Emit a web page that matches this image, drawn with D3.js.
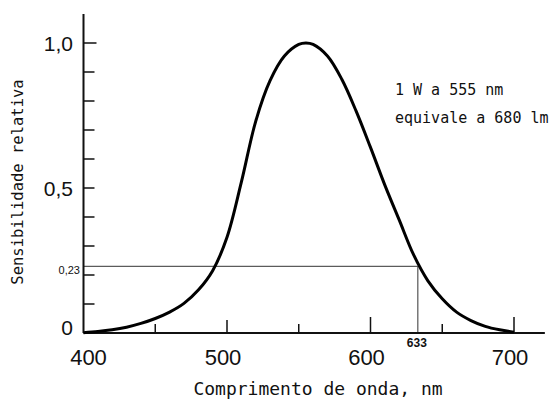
<!DOCTYPE html>
<html>
<head>
<meta charset="utf-8">
<script src="https://cdn.jsdelivr.net/npm/d3@7"></script>
<style>
  html, body { margin: 0; padding: 0; background: #fff; }
  svg { display: block; }
</style>
</head>
<body>
<svg id="chart" width="553" height="400"></svg>
<script>
// ---- data ----
const wavelengths = [400,410,420,430,440,450,460,470,480,490,500,510,520,530,540,550,555,560,570,580,590,600,610,620,630,640,650,660,670,680,690,700];
const sensitivity = [0.001,0.005,0.011,0.02,0.033,0.05,0.072,0.102,0.148,0.215,0.33,0.52,0.73,0.87,0.955,0.995,1.0,0.995,0.955,0.875,0.765,0.64,0.51,0.39,0.27,0.18,0.118,0.072,0.043,0.023,0.011,0.003];
const xMajorTicks = [500, 600, 700];
const xMinorTicks = [450, 550, 650];
const xTickLabels = ["400", "500", "600", "700"];
const yTicks = [0.1,0.2,0.3,0.4,0.5,0.6,0.7,0.8,0.9,1.0];
const yTickLabels = [{v:1.0, t:"1,0"}, {v:0.5, t:"0,5"}, {v:0, t:"0"}];
const refLevel = 0.23, refLevelLabel = "0,23";
const refWavelength = 633, refWavelengthLabel = "633";
const annotation = ["1 W a 555 nm", "equivale a 680 lm"];
const xTitle = "Comprimento de onda, nm";
const yTitle = "Sensibilidade relativa";

// ---- layout ----
const svg = d3.select("#chart");
const x = d3.scaleLinear().domain([400, 700]).range([83.5, 514]);
const y = d3.scaleLinear().domain([0, 1]).range([333, 43]);
const ink = "#111";
const numFont = "'Liberation Sans', Arial, sans-serif";
const monoFont = "'DejaVu Sans Mono', 'Liberation Mono', monospace";

// reference lines
svg.append("line")
  .attr("x1", x(400)).attr("x2", x(refWavelength))
  .attr("y1", y(refLevel)).attr("y2", y(refLevel))
  .attr("stroke", "#333").attr("stroke-width", 1);
svg.append("line")
  .attr("x1", x(refWavelength)).attr("x2", x(refWavelength))
  .attr("y1", y(refLevel)).attr("y2", y(0))
  .attr("stroke", "#333").attr("stroke-width", 1);

// axes lines
svg.append("line")
  .attr("x1", x(400)).attr("x2", x(721.5))
  .attr("y1", y(0)).attr("y2", y(0))
  .attr("stroke", ink).attr("stroke-width", 2);
svg.append("line")
  .attr("x1", x(400)).attr("x2", x(400))
  .attr("y1", y(1.1)).attr("y2", y(0))
  .attr("stroke", ink).attr("stroke-width", 2);

// y ticks (inward, right)
svg.append("g").selectAll("line").data(yTicks).join("line")
  .attr("x1", x(400)).attr("x2", d => x(400) + (d === 1.0 ? 13 : 11))
  .attr("y1", d => y(d)).attr("y2", d => y(d))
  .attr("stroke", ink).attr("stroke-width", 1.5);

// x ticks (upward)
svg.append("g").selectAll("line").data(xMajorTicks).join("line")
  .attr("x1", d => x(d)).attr("x2", d => x(d))
  .attr("y1", y(0)).attr("y2", d => y(0) - (d === 500 ? 13 : 16))
  .attr("stroke", ink).attr("stroke-width", 1.5);
svg.append("g").selectAll("line").data(xMinorTicks).join("line")
  .attr("x1", d => x(d)).attr("x2", d => x(d))
  .attr("y1", y(0)).attr("y2", y(0) - 9)
  .attr("stroke", ink).attr("stroke-width", 1.5);

// curve
const line = d3.line()
  .x((d, i) => x(wavelengths[i]))
  .y(d => y(d))
  .curve(d3.curveCatmullRom.alpha(0.5));
svg.append("path")
  .datum(sensitivity)
  .attr("d", line)
  .attr("fill", "none")
  .attr("stroke", "#000")
  .attr("stroke-width", 3)
  .attr("stroke-linejoin", "round");

// y tick labels
svg.append("g").selectAll("text").data(yTickLabels).join("text")
  .attr("x", 73)
  .attr("y", d => y(d.v) + (d.v === 0 ? 2 : 8))
  .attr("text-anchor", "end")
  .attr("font-family", numFont)
  .attr("font-size", 21)
  .attr("fill", ink)
  .text(d => d.t);

svg.append("text")
  .attr("x", 80).attr("y", y(refLevel) + 8)
  .attr("text-anchor", "end")
  .attr("font-family", numFont)
  .attr("font-size", 11)
  .attr("fill", ink)
  .text(refLevelLabel);

// x tick labels
svg.append("g").selectAll("text").data(xTickLabels).join("text")
  .attr("x", d => x(+d) + (+d === 400 ? 5 : -4))
  .attr("y", 365)
  .attr("text-anchor", "middle")
  .attr("font-family", numFont)
  .attr("font-size", 22)
  .attr("fill", ink)
  .text(d => d);

svg.append("text")
  .attr("x", x(refWavelength) - 1).attr("y", 347)
  .attr("text-anchor", "middle")
  .attr("font-family", numFont)
  .attr("font-size", 12)
  .attr("font-weight", "bold")
  .attr("fill", ink)
  .text(refWavelengthLabel);

// annotation
svg.append("g").selectAll("text").data(annotation).join("text")
  .attr("x", 395)
  .attr("y", (d, i) => 95 + i * 28)
  .attr("font-family", monoFont)
  .attr("font-size", 15)
  .attr("fill", ink)
  .text(d => d);

// axis titles
svg.append("text")
  .attr("x", 318).attr("y", 395)
  .attr("text-anchor", "middle")
  .attr("font-family", monoFont)
  .attr("font-size", 18)
  .attr("fill", ink)
  .text(xTitle);

svg.append("text")
  .attr("transform", "translate(23,182) rotate(-90)")
  .attr("text-anchor", "middle")
  .attr("font-family", monoFont)
  .attr("font-size", 15.5)
  .attr("fill", ink)
  .text(yTitle);
</script>
</body>
</html>
